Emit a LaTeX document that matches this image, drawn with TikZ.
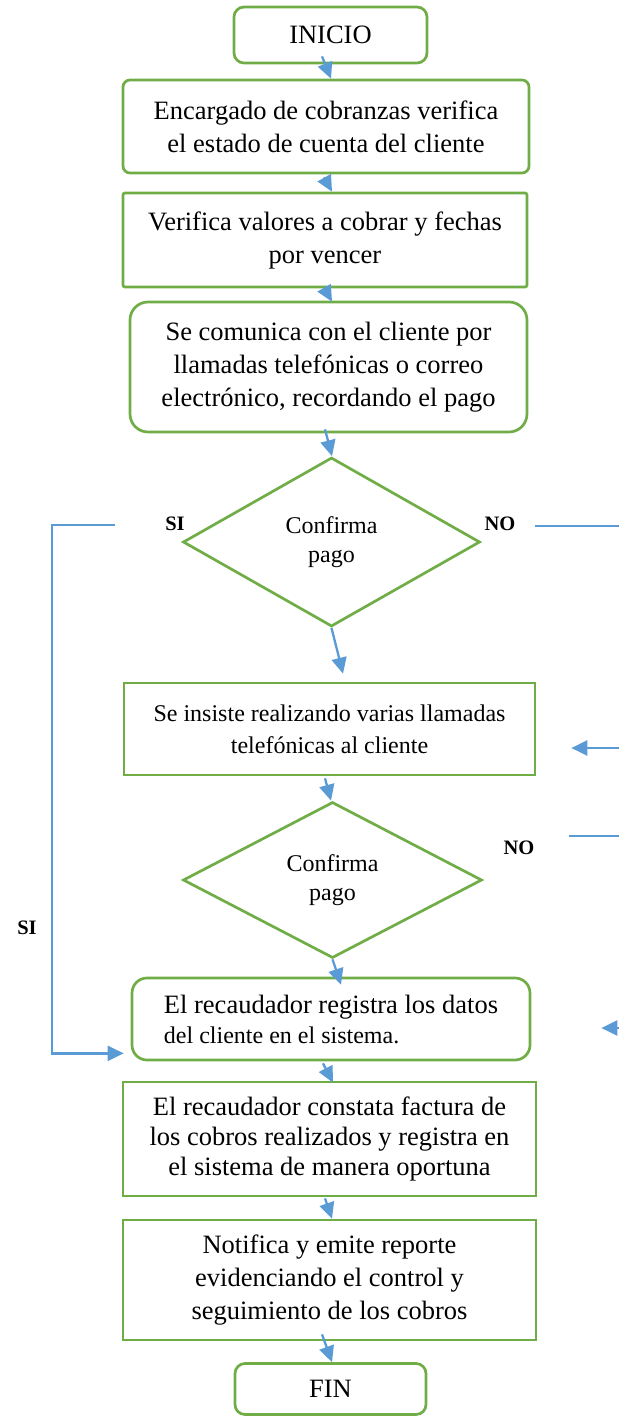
\documentclass[tikz,border=0pt]{standalone}
\usepackage{fontspec}
\setmainfont{Liberation Serif}
\usetikzlibrary{arrows.meta,shapes.geometric,calc}
\definecolor{fgreen}{HTML}{70AD47}
\definecolor{fblue}{HTML}{5B9BD5}
\tikzset{
  box/.style={draw=fgreen, line width=2.7pt, fill=white, inner sep=0pt, align=center,
    font=\fontsize{26.5}{33}\selectfont},
  dia/.style={draw=fgreen, line width=2.7pt, diamond, inner sep=0pt, align=center,
    font=\fontsize{24}{29}\selectfont},
  conn/.style={draw=fblue, line width=2.3pt, -{Triangle[length=16pt,width=15pt]}},
  bline/.style={draw=fblue, line width=2.3pt},
  lab/.style={font=\bfseries\fontsize{20.5}{24}\selectfont, inner sep=0pt}
}
\begin{document}
\begin{tikzpicture}[x=1pt,y=-1pt]
\useasboundingbox (0,0) rectangle (619,1416);

\node[box, rounded corners=10pt, minimum width=193pt, minimum height=56pt] (ini) at (330.5,35) {INICIO};
\node[box, rounded corners=7pt, minimum width=406pt, minimum height=93pt] (b1) at (326,126.5)
  {Encargado de cobranzas verifica\\el estado de cuenta del cliente};
\node[box, rounded corners=2pt, minimum width=404pt, minimum height=94pt] (b2) at (325,240)
  {Verifica valores a cobrar y fechas\\por vencer};
\node[box, rounded corners=18pt, minimum width=397pt, minimum height=130pt] (b3) at (328.5,367)
  {Se comunica con el cliente por\\llamadas telefónicas o correo\\electrónico, recordando el pago};
\node[dia, minimum width=297pt, minimum height=169pt, aspect=1.757] (d1) at (331.5,542) {Confirma\\pago};
\node[box, minimum width=411pt, minimum height=92pt, font=\fontsize{24}{32}\selectfont] (b4) at (329.5,729)
  {Se insiste realizando varias llamadas\\telefónicas al cliente};
\node[dia, minimum width=299pt, minimum height=156pt, aspect=1.917] (d2) at (332.5,880) {Confirma\\pago};
\node[box, rounded corners=15pt, minimum width=398pt, minimum height=82pt, align=left] (b5) at (331,1019)
  {El recaudador registra los datos\\[-3pt]{\fontsize{24}{29}\selectfont del cliente en el sistema.}};
\node[box, minimum width=413pt, minimum height=114pt, font=\fontsize{26.5}{30}\selectfont] (b6) at (329.5,1139)
  {El recaudador constata factura de\\los cobros realizados y registra en\\el sistema de manera oportuna};
\node[box, minimum width=413pt, minimum height=120pt] (b7) at (329.5,1280)
  {Notifica y emite reporte\\evidenciando el control y\\seguimiento de los cobros};
\node[box, rounded corners=10pt, minimum width=191pt, minimum height=51pt] (fin) at (330.5,1389) {FIN};

% main arrows
\draw[conn] ($(ini.south)+(-8.5,-8)$) -- ($(b1.north)+(5,0)$);
\draw[conn] ($(b1.south)+(-2,3)$) -- ($(b2.north)+(7,0)$);
\draw[conn] ($(b2.south)+(0,1)$) -- ($(b3.north)+(3.5,1)$);
\draw[conn] ($(b3.south)+(-3.5,-4)$) -- ($(d1.north)+(0.5,0)$);
\draw[conn] ($(d1.south)+(0,0)$) -- ($(b4.north)+(13.5,-8)$);
\draw[conn] ($(b4.south)+(-4.5,2)$) -- ($(d2.north)+(-1.5,0)$);
\draw[conn] ($(d2.south)+(0,0)$) -- ($(b5.north)+(10,8)$);
\draw[conn] ($(b5.south)+(-8,2)$) -- ($(b6.north)+(3.5,2)$);
\draw[conn] ($(b6.south)+(-4.5,1)$) -- ($(b7.north)+(2.5,0)$);
\draw[conn] ($(b7.south)+(-7.5,-7)$) -- ($(fin.north)+(1.5,0)$);

% SI branch
\coordinate (siA) at (115,525);
\coordinate (siB) at (52,525);
\draw[conn] (siA) -- (siB) |- ($(b5.south west)+(-7,-8)$);
\node[lab] (si1) at (175,524) {SI};
\node[lab] (si2) at (27,928) {SI};

% NO branches
\coordinate (noA) at (535,526);
\coordinate (noB) at (619,526);
\draw[bline] (noA) -- (noB);
\node[lab] (no1) at (500,524) {NO};
\coordinate (noC) at (619,748);
\draw[conn] (noC) -- ($(b4.east)+(35,19)$);
\coordinate (noD) at (569,836);
\coordinate (noE) at (619,836);
\draw[bline] (noD) -- (noE);
\node[lab] (no2) at (519,848) {NO};
\coordinate (noF) at (619,1028);
\draw[conn] (noF) -- ($(b5.east)+(70,9)$);
\end{tikzpicture}
\end{document}
